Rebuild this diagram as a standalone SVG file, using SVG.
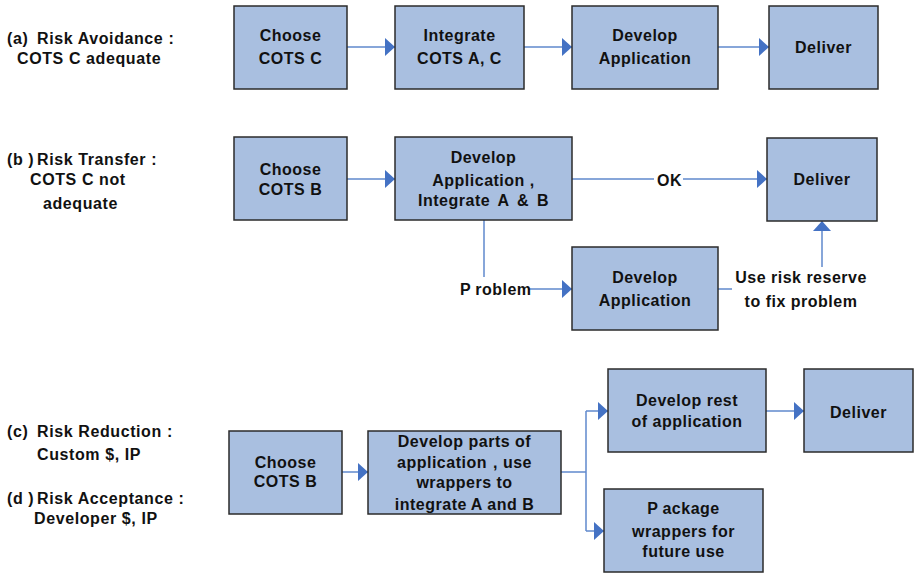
<svg xmlns="http://www.w3.org/2000/svg" width="914" height="573" viewBox="0 0 914 573">
  <defs>
    <marker id="arrow" markerUnits="userSpaceOnUse" markerWidth="10" markerHeight="18" viewBox="0 0 10 18" refX="10" refY="9" orient="auto">
      <path d="M0,0 L10,9 L0,18 Z" fill="#4472C4"/>
    </marker>
    <style>
      .box { fill: #A9BFE0; stroke: #2B2B2B; stroke-width: 1.5; }
      .t { font-family: "Liberation Sans", Arial, sans-serif; font-weight: bold; font-size: 16px; fill: #111; letter-spacing: 0.5px; }
      .c { text-anchor: middle; }
      .lbl { font-family: "Liberation Sans", Arial, sans-serif; font-weight: bold; font-size: 16px; fill: #111; letter-spacing: 0.6px; }
      .line { fill: none; stroke: #5F88CC; stroke-width: 1.5; }
      .arr { marker-end: url(#arrow); }
    </style>
  </defs>
  <rect width="914" height="573" fill="#FFFFFF"/>

  <!-- scenario captions -->
  <g id="captions">
    <text class="lbl" x="7" y="44">(a)</text>
    <text class="lbl" x="37" y="44">Risk Avoidance :</text>
    <text class="lbl" x="17" y="64">COTS C adequate</text>

    <text class="lbl" x="7" y="165">(b )</text>
    <text class="lbl" x="37" y="165">Risk Transfer :</text>
    <text class="lbl" x="30" y="185">COTS C not</text>
    <text class="lbl" x="43" y="209">adequate</text>

    <text class="lbl" x="7" y="437">(c)</text>
    <text class="lbl" x="37" y="437">Risk Reduction :</text>
    <text class="lbl" x="37" y="460">Custom $, IP</text>

    <text class="lbl" x="7" y="504">(d )</text>
    <text class="lbl" x="37" y="504">Risk Acceptance :</text>
    <text class="lbl" x="34" y="524">Developer $, IP</text>
  </g>

  <!-- connectors -->
  <g id="connectors">
    <!-- row a -->
    <path class="line arr" d="M347,47 H395"/>
    <path class="line arr" d="M524,47 H572"/>
    <path class="line arr" d="M718,47 H769"/>
    <!-- row b -->
    <path class="line arr" d="M347,179 H395"/>
    <path class="line" d="M572,179 H654"/>
    <path class="line arr" d="M683,179 H767"/>
    <path class="line" d="M484,220 V277"/>
    <path class="line arr" d="M528,289 H572"/>
    <path class="line" d="M718,289 H732"/>
    <path class="line arr" d="M822,267 V221"/>
    <!-- row c -->
    <path class="line arr" d="M342,472 H368"/>
    <path class="line" d="M561,472 H586"/>
    <path class="line" d="M586,411 V531"/>
    <path class="line arr" d="M586,411 H608"/>
    <path class="line arr" d="M586,531 H604"/>
    <path class="line arr" d="M766,411 H804"/>
    <!-- connector labels -->
    <text class="t" x="657" y="186">OK</text>
    <text class="t" x="460" y="295">P<tspan dx="4">roblem</tspan></text>
    <text class="t c" x="801" y="283">Use risk reserve</text>
    <text class="t c" x="801" y="307">to fix problem</text>
  </g>

  <!-- row a nodes -->
  <g id="a-choose">
    <rect class="box" x="234" y="6" width="113" height="83"/>
    <text class="t c" x="290.5" y="41">Choose</text>
    <text class="t c" x="290.5" y="64">COTS C</text>
  </g>
  <g id="a-integrate">
    <rect class="box" x="395" y="6" width="129" height="83"/>
    <text class="t c" x="459.5" y="41">Integrate</text>
    <text class="t c" x="459.5" y="64">COTS A, C</text>
  </g>
  <g id="a-develop">
    <rect class="box" x="572" y="6" width="146" height="83"/>
    <text class="t c" x="645" y="41">Develop</text>
    <text class="t c" x="645" y="64">Application</text>
  </g>
  <g id="a-deliver">
    <rect class="box" x="769" y="6" width="109" height="83"/>
    <text class="t c" x="823.5" y="53">Deliver</text>
  </g>

  <!-- row b nodes -->
  <g id="b-choose">
    <rect class="box" x="234" y="137" width="113" height="83"/>
    <text class="t c" x="290.5" y="175">Choose</text>
    <text class="t c" x="290.5" y="195">COTS B</text>
  </g>
  <g id="b-develop-integrate">
    <rect class="box" x="395" y="137" width="177" height="83"/>
    <text class="t c" x="483.5" y="163">Develop</text>
    <text class="t c" x="483.5" y="186">Application ,</text>
    <text class="t c" x="483.5" y="206" word-spacing="3">Integrate A &amp; B</text>
  </g>
  <g id="b-deliver">
    <rect class="box" x="767" y="138" width="110" height="83"/>
    <text class="t c" x="822" y="185">Deliver</text>
  </g>
  <g id="b-develop">
    <rect class="box" x="572" y="247" width="146" height="83"/>
    <text class="t c" x="645" y="283">Develop</text>
    <text class="t c" x="645" y="306">Application</text>
  </g>

  <!-- row c nodes -->
  <g id="c-choose">
    <rect class="box" x="229" y="431" width="113" height="83"/>
    <text class="t c" x="285.5" y="468">Choose</text>
    <text class="t c" x="285.5" y="487">COTS B</text>
  </g>
  <g id="c-develop-parts">
    <rect class="box" x="368" y="431" width="193" height="83"/>
    <text class="t c" x="464.5" y="447">Develop parts of</text>
    <text class="t c" x="464.5" y="468">application<tspan dx="6">, use</tspan></text>
    <text class="t c" x="464.5" y="488">wrappers to</text>
    <text class="t c" x="464.5" y="510">integrate<tspan dx="4">A and B</tspan></text>
  </g>
  <g id="c-develop-rest">
    <rect class="box" x="608" y="369" width="158" height="83"/>
    <text class="t c" x="687" y="406">Develop rest</text>
    <text class="t c" x="687" y="427">of application</text>
  </g>
  <g id="c-deliver">
    <rect class="box" x="804" y="369" width="109" height="83"/>
    <text class="t c" x="858.5" y="418">Deliver</text>
  </g>
  <g id="c-package">
    <rect class="box" x="604" y="489" width="159" height="83"/>
    <text class="t c" x="683.5" y="514">P<tspan dx="4">ackage</tspan></text>
    <text class="t c" x="683.5" y="537">wrappers for</text>
    <text class="t c" x="683.5" y="557">future use</text>
  </g>
</svg>
